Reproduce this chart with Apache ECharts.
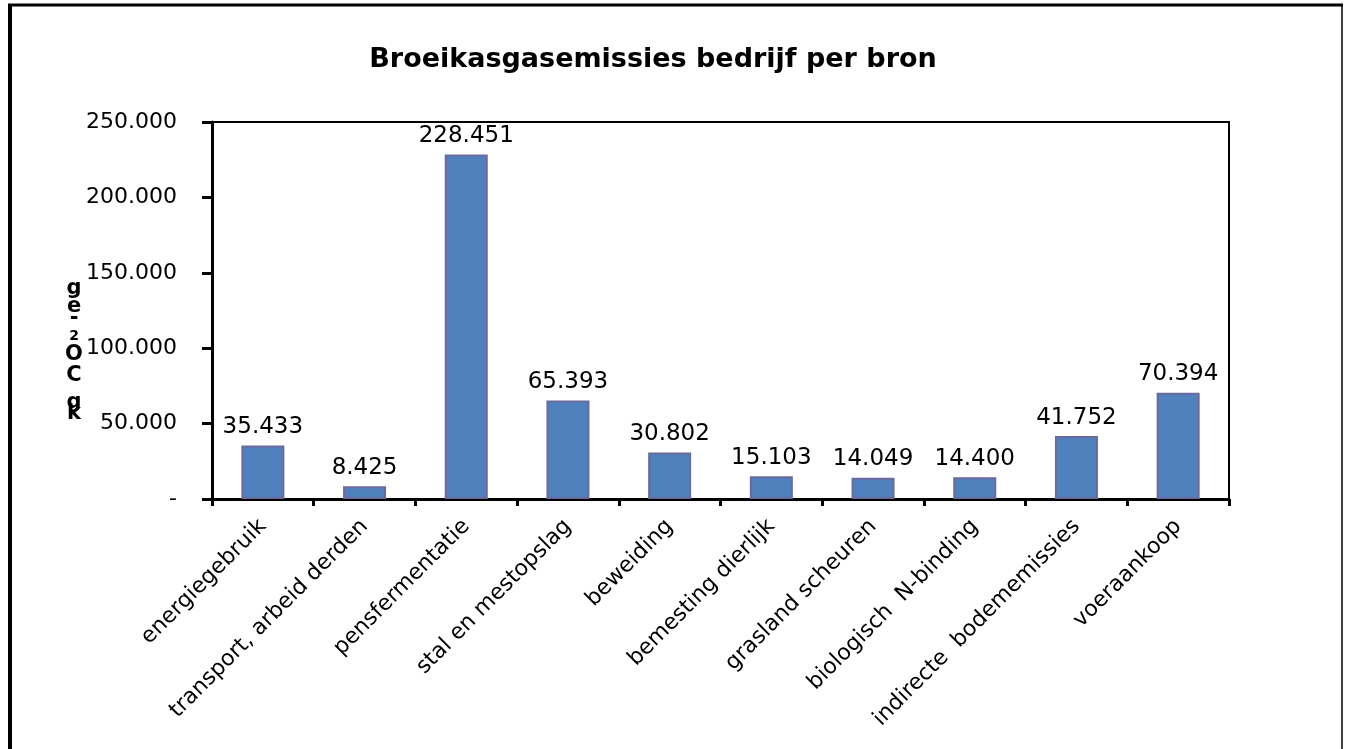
<!DOCTYPE html>
<html><head><meta charset="utf-8">
<script src="https://cdn.jsdelivr.net/npm/echarts@6/dist/echarts.min.js"></script>
<style>html,body{margin:0;padding:0;background:#fff}#c{width:1346px;height:749px}</style>
</head><body><div id="c"></div>
<script>
const categories = ['energiegebruik','transport, arbeid derden','pensfermentatie','stal en mestopslag','beweiding','bemesting dierlijk','grasland scheuren','biologisch  N-binding','indirecte  bodememissies','voeraankoop'];
const values = [35433, 8425, 228451, 65393, 30802, 15103, 14049, 14400, 41752, 70394];
const yTicks = [0, 50000, 100000, 150000, 200000, 250000];
const title = 'Broeikasgasemissies bedrijf per bron';
const yLabelChars = ['g','e','-','2','O','C','g','k'];
const yLabelY = [289, 307, 319, 336, 355, 376, 403, 414];

function fmt(v){ if(v===0) return '-'; return String(v).replace(/\B(?=(\d{3})+(?!\d))/g,'.'); }

const chart = echarts.init(document.getElementById('c'));
const graphic = [
  {type:'line', shape:{x1:8,y1:5,x2:1343,y2:5}, style:{stroke:'#000',lineWidth:3}},
  {type:'line', shape:{x1:10,y1:4,x2:10,y2:749}, style:{stroke:'#000',lineWidth:4}},
  {type:'line', shape:{x1:1342,y1:5,x2:1342,y2:749}, style:{stroke:'#000',lineWidth:1.5}}
];
yLabelChars.forEach((ch,i)=>{
  graphic.push({type:'text', x:74, y:yLabelY[i], style:{text:ch, font:'bold '+(ch==='2'?'14px':'21px')+' "DejaVu Sans"', fill:'#000', align:'center', verticalAlign:'middle'}});
});
chart.setOption({
  animation:false,
  title:{text:title, left:648, top:41, textAlign:'center', textStyle:{fontFamily:'DejaVu Sans', fontWeight:'bold', fontSize:27, color:'#000'}},
  grid:{left:212, top:122, width:1017, height:377, show:true, borderColor:'#000', borderWidth:2, containLabel:false},
  xAxis:{type:'category', data:categories,
    axisLine:{lineStyle:{color:'#000', width:3}},
    axisTick:{show:true, length:7, lineStyle:{color:'#000', width:3}},
    axisLabel:{rotate:45, interval:0, fontFamily:'DejaVu Sans', fontSize:22, color:'#000', margin:24}},
  yAxis:{type:'value', min:0, max:250000, interval:50000,
    axisLine:{show:true, lineStyle:{color:'#000', width:3}},
    axisTick:{show:true, length:10, lineStyle:{color:'#000', width:3}},
    splitLine:{show:false},
    axisLabel:{formatter:fmt, fontFamily:'DejaVu Sans', fontSize:22, color:'#000', margin:35}},
  series:[{type:'bar', data:values, barWidth:43,
    itemStyle:{color:'#4F81BD', borderColor:'#6A6A9F', borderWidth:2},
    label:{show:true, position:'top', distance:7, formatter:p=>fmt(p.value), fontFamily:'DejaVu Sans', fontSize:23, color:'#000'}}],
  graphic: graphic
});
</script></body></html>
